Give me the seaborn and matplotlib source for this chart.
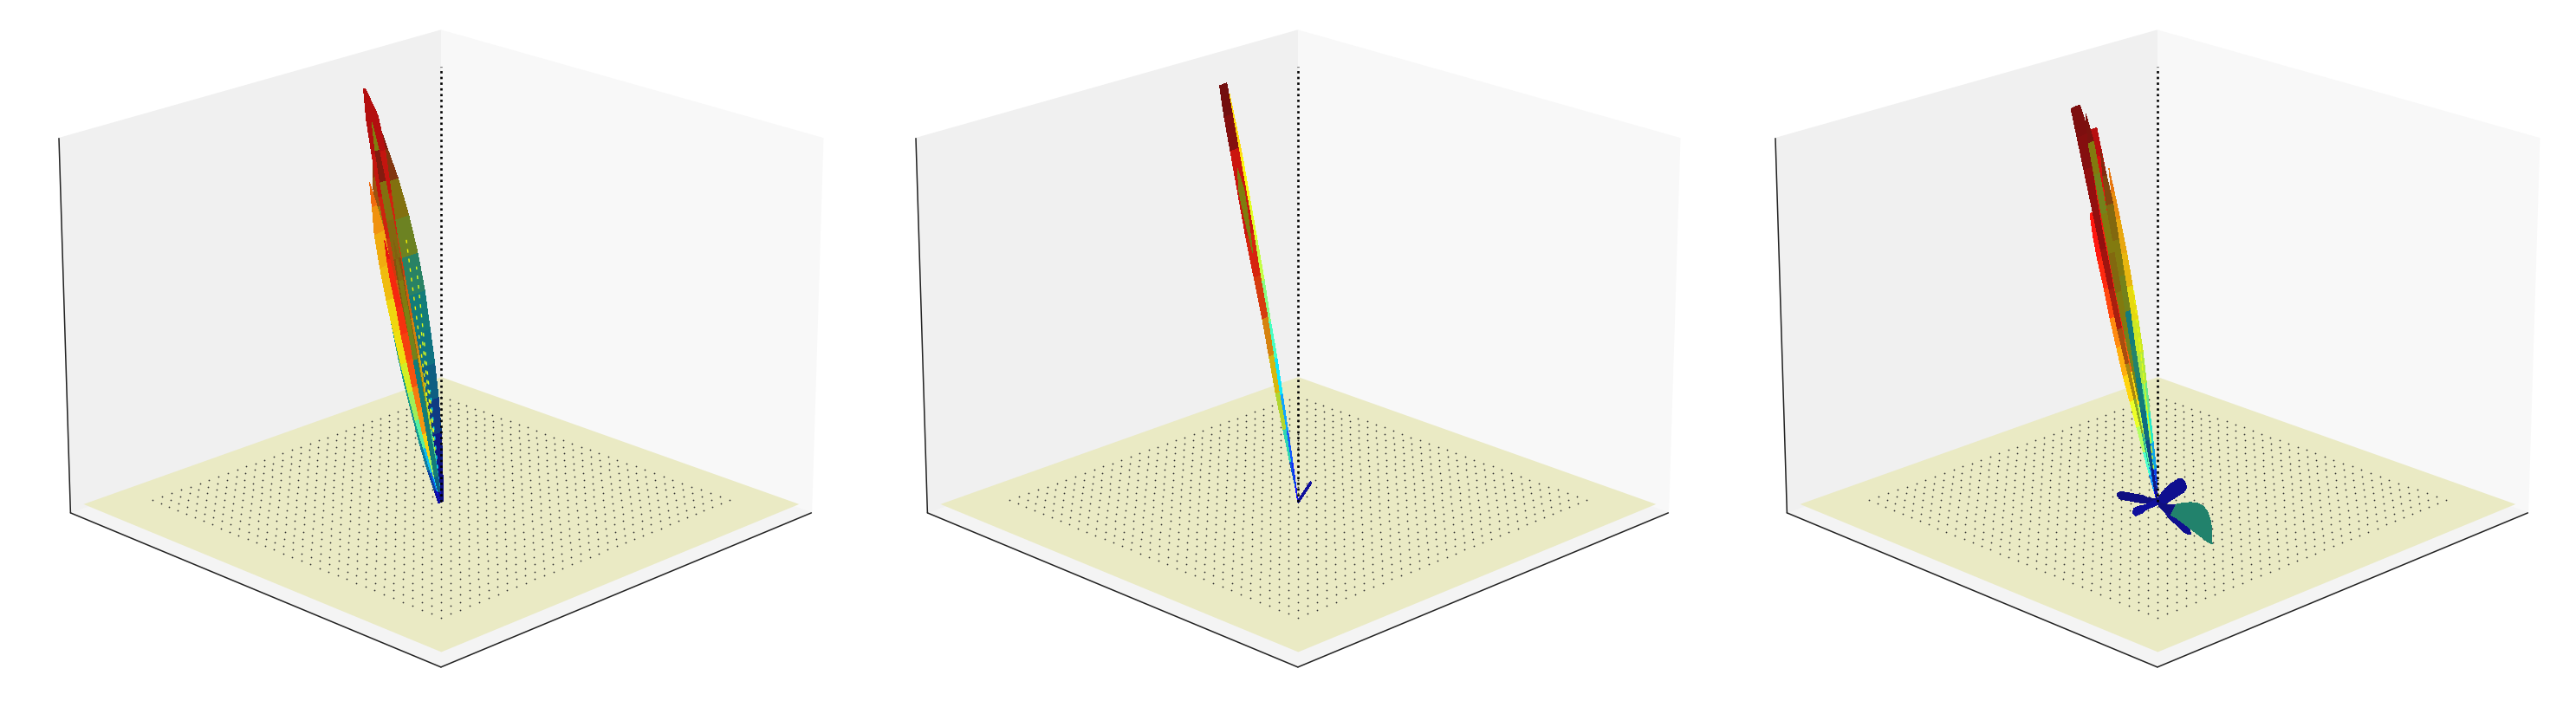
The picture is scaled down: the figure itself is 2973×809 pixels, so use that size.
import numpy as np
import matplotlib
matplotlib.use("Agg")
import matplotlib.pyplot as plt
import seaborn as sns

# ---- values (pixel offsets from the lobe origin, along the shared stations)
STATIONS = [0, .04, .1, .18, .27, .36, .45, .55, .65, .75, .85, .93, 1]

P1_TIPS = [(-68, -430), (-74, -400), (-78, -364), (-83, -467), (-75, -430), (-62, -300), (-52, -300)]
P1_FLAT = [0, 0, 0, 0, 0, 0, 0]
P1_LEFT = [[3, 4, 4, 4, 3, 3, 3, 3, 3, 3, 3, 3, 0],
           [3, 5, 8, 11, 13, 15, 16, 16, 15, 13, 10, 6, 0],
           [0, 2, 4, 6, 8, 9, 10, 10, 10, 9, 7, 3, 0],
           [0, 1, 2, 2, 3, 3, 4, 6, 6, 6, 5, 4, 1],
           [0, 1, 1, 2, 2, 3, 3, 3, 3, 3, 3, 2, 0],
           [0, 1, 2, 3, 4, 4, 4, 4, 4, 3, 3, 2, 0],
           [0, 1, 2, 2, 2, 2, 2, 2, 2, 2, 2, 1, 0]]
P1_RIGHT = [[3, 5, 9, 13, 16, 18, 19, 20, 19, 16, 11, 5, 0],
            [0, 1, 1, 2, 2, 2, 2, 2, 2, 2, 2, 1, 0],
            [0, 2, 4, 6, 8, 10, 10, 10, 8, 6, 4, 2, 0],
            [0, 2, 3, 4, 5, 6, 6, 6, 6, 8, 10, 9, 1],
            [0, 1, 2, 2, 3, 3, 3, 3, 4, 4, 3, 2, 0],
            [0, 1, 2, 3, 3, 3, 3, 3, 3, 3, 2, 1, 0],
            [0, 1, 2, 2, 2, 2, 2, 2, 2, 2, 2, 1, 0]]
P1_JET = [[.12, .12, .15, .22, .30, .34, .36, .42, .60, .68, .82, .88, .9],
          [.12, .22, .32, .36, .38, .38, .40, .45, .62, .70, .78, .85, .9],
          [.12, .22, .32, .45, .55, .62, .66, .67, .70, .72, .75, .80, .82],
          [.12, .30, .45, .60, .70, .75, .80, .85, .88, .90, .92, .92, .92],
          [.12, .30, .40, .55, .65, .70, .72, .75, .70, .68, .88, .65, .88],
          [.12, .35, .55, .68, .75, .78, .83, .85, .87, .88, .88, .90, .90],
          [.12, .30, .36, .36, .36, .36, .36, .62, .64, .66, .70, .72, .75]]
P1_SHADE = [.45, .55, .88, .75, .45, .9, .45]
P1_DASHES = [(-12, -130, .36), (-22, -200, .62), (-27, -270, .62), (-38, -300, .65)]

P2_TIPS = [(-78, -460), (-81, -472), (-66, -380), (15, -22)]
P2_FLAT = [0, 0, 0, 1]
P2_LEFT = [[0, 0, 0, 1, 1, 1, 1, 1, 1, 1, 1, 1, 1],
           [0, 0, 1, 2, 3, 3, 3, 4, 5, 5, 5, 5, 4],
           [0, 0, 0, 0, 0, 0, 0, 0, 0, 0, 2, 3, 0],
           [1, 1, 1, 1, 1, 1, 1, 1, 1, 1, 1, 1, 1]]
P2_RIGHT = [[0, 1, 2, 3, 4, 5, 5, 6, 6, 6, 6, 5, 4],
            [0, 0, 0, 1, 1, 2, 3, 3, 4, 4, 4, 4, 4],
            [0, 0, 0, 0, 0, 0, 0, 0, 0, 0, 2, 3, 0],
            [1, 1, 1, 1, 1, 1, 1, 1, 1, 1, 1, 1, 1]]
P2_JET = [[.12, .15, .20, .28, .35, .42, .50, .58, .62, .65, .68, .68, .70],
          [.12, .22, .40, .60, .68, .75, .85, .88, .90, .90, .98, 1.0, 1.0],
          [.65, .65, .65, .65, .65, .65, .65, .65, .65, .65, .65, .65, .65],
          [.12, .12, .12, .12, .12, .12, .12, .12, .12, .12, .12, .12, .12]]
P2_SHADE = [.95, .78, .45, .55]
P2_DASHES = []

P3_TIPS = [(-53, -380), (-72, -330), (-90, -447), (-70, -423), (-62, -400), (-78, -440),
           (-45, -8), (-27, 12), (32, -20), (37, 35), (60, 45)]
P3_FLAT = [0, 0, 0, 0, 0, 0, 1, 1, 1, 1, 1]
P3_LEFT = [[0, 1, 2, 3, 3, 3, 4, 4, 4, 3, 2, 1, 0],
           [0, 1, 2, 3, 4, 5, 6, 6, 6, 5, 5, 4, 2],
           [0, 0, 1, 1, 2, 3, 4, 4, 4, 4, 4, 4, 4],
           [0, 1, 2, 2, 3, 4, 5, 6, 7, 8, 8, 6, 4],
           [0, 1, 1, 2, 2, 2, 3, 3, 3, 3, 3, 2, 0],
           [0, 0, 0, 0, 0, 1, 2, 3, 3, 3, 3, 3, 0],
           [0, 2, 2, 2, 2, 3, 3, 3, 3, 3, 3, 3, 1],
           [0, 2, 2, 2, 2, 2, 2, 2, 3, 3, 3, 3, 1],
           [0, 2, 3, 4, 5, 6, 6, 7, 7, 7, 7, 6, 3],
           [0, 1, 2, 2, 2, 3, 3, 3, 3, 3, 3, 2, 0],
           [0, 1, 2, 2, 2, 1, 1, 1, 1, 1, 1, 1, 0]]
P3_RIGHT = [[0, 2, 4, 5, 6, 7, 8, 8, 7, 6, 4, 2, 0],
            [0, 1, 1, 2, 3, 3, 3, 3, 3, 3, 3, 3, 2],
            [0, 0, 1, 1, 2, 3, 4, 6, 7, 8, 9, 9, 6],
            [0, 1, 2, 2, 3, 4, 5, 6, 6, 6, 6, 5, 4],
            [0, 1, 1, 2, 3, 3, 3, 4, 4, 4, 4, 2, 0],
            [0, 0, 0, 0, 0, 1, 2, 3, 3, 3, 3, 3, 0],
            [0, 2, 2, 2, 2, 3, 3, 3, 3, 3, 3, 3, 1],
            [0, 2, 2, 2, 2, 2, 2, 2, 3, 3, 3, 3, 1],
            [0, 2, 3, 4, 5, 5, 5, 5, 5, 5, 5, 4, 3],
            [0, 1, 2, 2, 2, 2, 2, 2, 2, 2, 2, 2, 0],
            [0, 1, 2, 4, 8, 13, 17, 20, 21, 19, 14, 7, 0]]
P3_JET = [[.12, .18, .30, .38, .48, .58, .62, .66, .70, .72, .75, .78, .80],
          [.12, .25, .42, .55, .62, .70, .74, .78, .85, .88, .90, .90, .90],
          [.12, .25, .40, .60, .70, .80, .88, .90, .92, .92, .94, .95, .95],
          [.12, .28, .45, .58, .68, .82, .88, .88, .89, .90, .92, .95, .95],
          [.12, .15, .25, .33, .36, .40, .36, .62, .66, .70, .78, .85, .88],
          [.62, .62, .62, .62, .62, .62, .66, .70, .66, .62, .66, .90, .92]]
P3_JET += [[.12] * 13, [.12] * 13, [.12] * 13, [.12] * 13,
           [.12, .12, .12, .12, .40, .40, .40, .40, .40, .40, .40, .40, .40]]
P3_SHADE = [.85, 1.0, .6, .92, .45, .45, .45, .55, .5, .5, .45]
P3_DASHES = [(-14, -130, .6), (-20, -190, .62), (-27, -250, .64)]

PANELS = [(P1_TIPS, P1_FLAT, P1_LEFT, P1_RIGHT, P1_JET, P1_SHADE, P1_DASHES),
          (P2_TIPS, P2_FLAT, P2_LEFT, P2_RIGHT, P2_JET, P2_SHADE, P2_DASHES),
          (P3_TIPS, P3_FLAT, P3_LEFT, P3_RIGHT, P3_JET, P3_SHADE, P3_DASHES)]
PANEL_CENTRES = [496, 1485, 2477]

GRID_N = 33

# ---- styling
sns.set_theme(style="white")
jet = matplotlib.colormaps["jet"]

W, H = 2973, 809
ELEV, AZIM = 20.2, -45
AX_SIZE = 954
AX_CY = 392
PLANE = .965
GRID_HALF = .78
GRID_SHIFT = .025
Z_FLOOR, Z_ORIGIN, Z_TOP = .025, .03, 1.185
TINT = .06
PX_U = .0034      # data units per pixel across the screen
PX_V = .00906     # data units per pixel in floor depth
PX_Z = .00235     # data units per pixel upward

el, az = np.radians(ELEV), np.radians(AZIM)
VIEW = np.array([np.cos(el) * np.cos(az), np.cos(el) * np.sin(az), np.sin(el)])


def tip_vector(dx, dy, flat):
    if flat:
        u, v = dx * PX_U, dy * PX_V
        return np.array([(u + v) / np.sqrt(2), (u - v) / np.sqrt(2), 0.0])
    u = dx * PX_U
    return np.array([u / np.sqrt(2), u / np.sqrt(2), -dy * PX_Z])


def draw_blade(ax, tip, left, right, jet_vals, shade, order):
    s = np.array(STATIONS)
    d = tip / np.linalg.norm(tip)
    w = np.cross(d, VIEW)
    w /= np.linalg.norm(w)
    if w[0] + w[1] < 0:
        w = -w
    base = np.array([0, 0, Z_ORIGIN])
    spine = base + s[:, None] * tip
    lft = spine - np.array(left)[:, None] * PX_U * w
    rgt = spine + np.array(right)[:, None] * PX_U * w
    X = np.stack([lft[:, 0], spine[:, 0], rgt[:, 0]], axis=1)
    Y = np.stack([lft[:, 1], spine[:, 1], rgt[:, 1]], axis=1)
    Z = np.stack([lft[:, 2], spine[:, 2], rgt[:, 2]], axis=1)
    col = jet(np.array(jet_vals))
    col[:, :3] = np.clip(col[:, :3] * shade + TINT, 0, 1)
    fc = np.repeat(col[:, None, :], 3, axis=1)
    ax.plot_surface(X, Y, Z, facecolors=fc, shade=False, rstride=1, cstride=1,
                    linewidth=0, antialiased=False, zorder=order)


fig = plt.figure(figsize=(W / 100, H / 100), dpi=100, facecolor="white")
for cx, (tips, flats, lefts, rights, jets, shades, dashes) in zip(PANEL_CENTRES, PANELS):
    ax = fig.add_axes([(cx - AX_SIZE / 2) / W, 1 - (AX_CY + AX_SIZE / 2) / H, AX_SIZE / W, AX_SIZE / H],
                      projection="3d", computed_zorder=False)
    ax.patch.set_alpha(0)
    ax.set_box_aspect((1, 1, .75))
    ax.view_init(elev=ELEV, azim=AZIM)
    ax.set_xlim(-1, 1); ax.set_ylim(-1, 1); ax.set_zlim(0, 1)
    ax.set_xticks([]); ax.set_yticks([]); ax.set_zticks([])
    ax.grid(False)
    for axis, c in ((ax.xaxis, "#F0F0F0"), (ax.yaxis, "#F8F8F8"), (ax.zaxis, "#F4F4F4")):
        axis.set_pane_color(c)
        axis.pane.set_edgecolor(c)
        axis.line.set_color("#222222")
        axis.line.set_linewidth(1.1)
    ax.zaxis.line.set_color("none")

    # floor plane, dot grid and the vertical axis
    gx = np.array([[-PLANE, PLANE], [-PLANE, PLANE]])
    gy = np.array([[-PLANE, -PLANE], [PLANE, PLANE]])
    ax.plot_surface(gx, gy, np.full((2, 2), Z_FLOOR), color="#EAEAC4", shade=False,
                    linewidth=0, zorder=1)
    xs = np.linspace(-GRID_HALF, GRID_HALF, GRID_N)
    mx, my = np.meshgrid(xs - GRID_SHIFT, xs + GRID_SHIFT)
    ax.scatter(mx.ravel(), my.ravel(), np.full(mx.size, Z_FLOOR), s=1.6, c="#333333",
               linewidths=0, depthshade=False, zorder=2)
    ax.plot([-1, -1], [-1, -1], [0, 1], color="#222222", lw=1.1, zorder=2)

    for i, (t, f) in enumerate(zip(tips, flats)):
        draw_blade(ax, tip_vector(*t, f), lefts[i], rights[i], jets[i], shades[i], 3 + i)
    for dx, dy, v in dashes:
        p = tip_vector(dx, dy, 0)
        ax.plot([.3 * p[0], p[0]], [.3 * p[1], p[1]], [Z_ORIGIN + .3 * p[2], Z_ORIGIN + p[2]],
                color=jet(v), lw=1.0, ls=(0, (3, 5)), zorder=30)
    ax.plot([0, 0], [0, 0], [Z_ORIGIN, Z_TOP], color="black", lw=1.9, ls=(0, (1, 1.5)), zorder=31)

fig.savefig("out.png", dpi=100)
